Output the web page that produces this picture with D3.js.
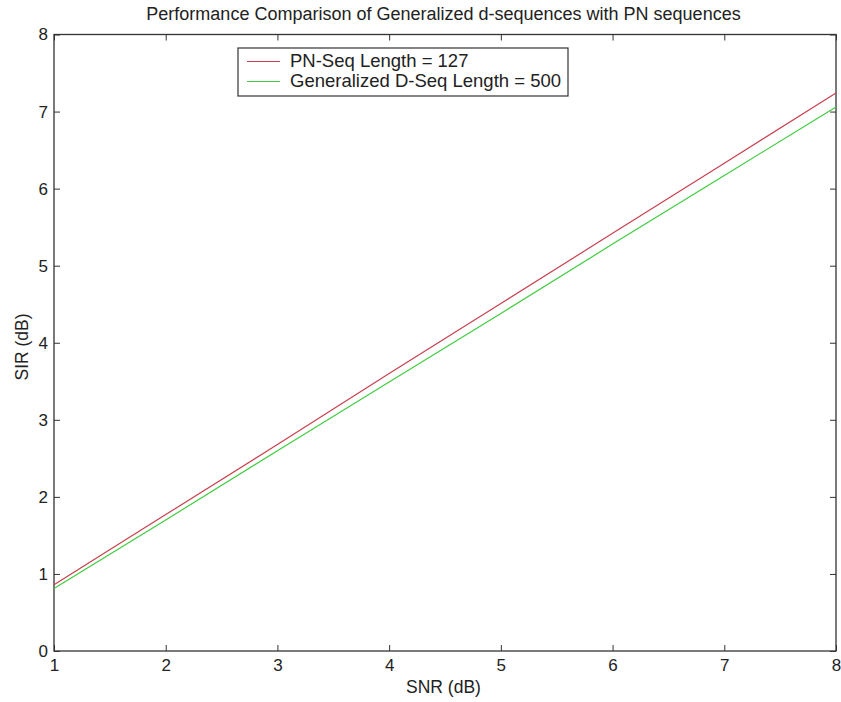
<!DOCTYPE html>
<html><head><meta charset="utf-8">
<script src="https://cdn.jsdelivr.net/npm/d3@7"></script>
<style>body{margin:0;background:#fff;} text{font-family:"Liberation Sans",Arial,sans-serif;fill:#222;}</style>
</head><body>
<svg id="c" width="841" height="702"></svg>
<script>
const snr = [1,2,3,4,5,6,7,8];
const pnSeq127 = [0.86,1.77,2.68,3.60,4.51,5.42,6.33,7.24];
const dSeq500 = [0.81,1.70,2.60,3.49,4.38,5.28,6.17,7.06];
const xTicks = [1,2,3,4,5,6,7,8];
const yTicks = [0,1,2,3,4,5,6,7,8];
const seriesNames = ["PN-Seq Length = 127","Generalized D-Seq Length = 500"];
const colors = ["#c8404e","#40cc40"];

const svg = d3.select("#c");
const L=54,R=836,T=34.5,B=651;
const x = d3.scaleLinear().domain([1,8]).range([L,R]);
const y = d3.scaleLinear().domain([0,8]).range([B,T]);
const axisCol="#333";
svg.append("rect").attr("x",L).attr("y",T).attr("width",R-L).attr("height",B-T)
  .attr("fill","none").attr("stroke",axisCol).attr("stroke-width",1.3);
const tl=6;
const gx=svg.append("g").attr("transform",`translate(0,${B})`)
  .call(d3.axisBottom(x).tickValues(xTicks).tickSizeInner(-tl).tickSizeOuter(0).tickPadding(8).tickFormat(d3.format("d")));
const gxt=svg.append("g").attr("transform",`translate(0,${T})`)
  .call(d3.axisTop(x).tickValues(xTicks).tickSizeInner(-tl).tickSizeOuter(0).tickFormat(""));
const gy=svg.append("g").attr("transform",`translate(${L},0)`)
  .call(d3.axisLeft(y).tickValues(yTicks).tickSizeInner(-tl).tickSizeOuter(0).tickPadding(6).tickFormat(d3.format("d")));
const gyr=svg.append("g").attr("transform",`translate(${R},0)`)
  .call(d3.axisRight(y).tickValues(yTicks).tickSizeInner(-tl).tickSizeOuter(0).tickFormat(""));
[gx,gxt,gy,gyr].forEach(g=>{g.select(".domain").remove();g.selectAll("line").attr("stroke",axisCol);
  g.selectAll("text").attr("font-size",17).attr("font-family","Liberation Sans, Arial").attr("fill","#222");});
const line=d3.line().x((d,i)=>x(snr[i])).y(d=>y(d));
[pnSeq127,dSeq500].forEach((s,i)=>{
  svg.append("path").datum(s).attr("d",line).attr("fill","none").attr("stroke",colors[i]).attr("stroke-width",1.2);
});
svg.append("text").attr("x",443.5).attr("y",20).attr("text-anchor","middle").attr("font-size",18).text("Performance Comparison of Generalized d-sequences with PN sequences");
svg.append("text").attr("x",443.5).attr("y",693).attr("text-anchor","middle").attr("font-size",17.5).text("SNR (dB)");
svg.append("text").attr("transform","translate(28,347) rotate(-90)").attr("text-anchor","middle").attr("font-size",17.5).text("SIR (dB)");
const lg=svg.append("g");
lg.append("rect").attr("x",238).attr("y",48).attr("width",330).attr("height",48).attr("fill","#fff").attr("stroke",axisCol).attr("stroke-width",1.2);
seriesNames.forEach((n,i)=>{
  const yy=61.5+i*20;
  lg.append("line").attr("x1",247).attr("x2",280).attr("y1",yy).attr("y2",yy).attr("stroke",colors[i]).attr("stroke-width",1.2);
  lg.append("text").attr("x",290).attr("y",yy+5).attr("font-size",18.5).text(n);
});
</script>
</body></html>
